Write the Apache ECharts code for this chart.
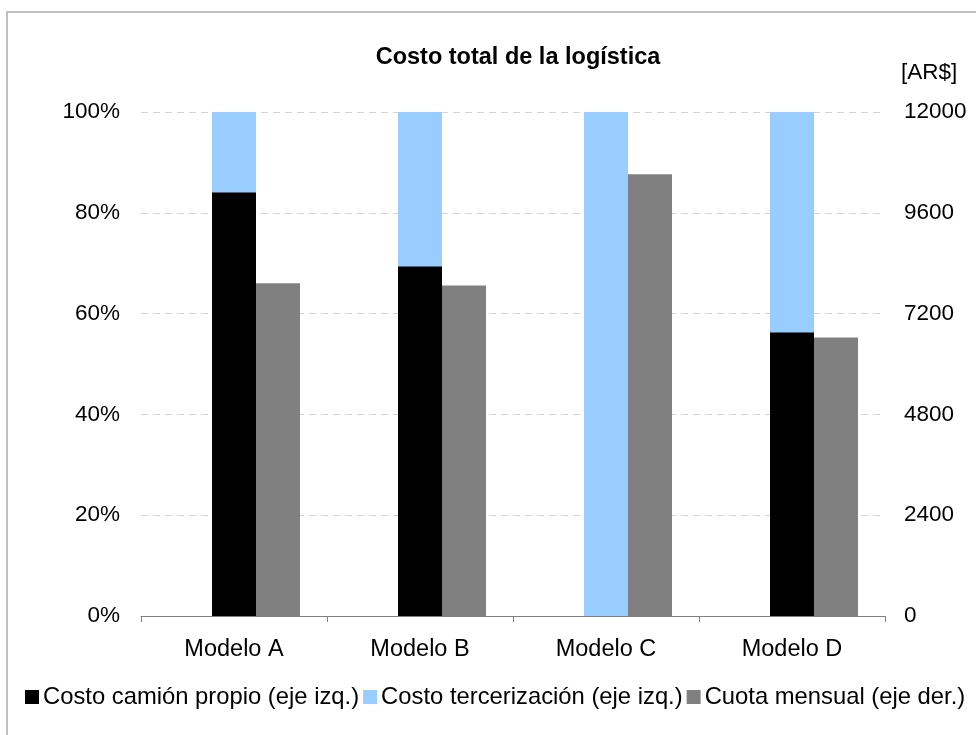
<!DOCTYPE html>
<html>
<head>
<meta charset="utf-8">
<script src="https://cdn.jsdelivr.net/npm/echarts@6/dist/echarts.min.js"></script>
<style>
  html, body { margin: 0; padding: 0; background: #ffffff; }
  #chart { width: 976px; height: 735px; }
</style>
</head>
<body>
<div id="chart"></div>
<script>
// Categories and series values
const categories = ['Modelo A', 'Modelo B', 'Modelo C', 'Modelo D'];
const ownTruckPct = [84.1, 69.4, 0, 56.3];          // % of total cost (left axis)
const outsourcingPct = [15.9, 30.6, 100, 43.7];     // % of total cost (left axis)
const monthlyFee = [7920, 7870, 10520, 6630];       // AR$ (right axis)
const spacer = [null, null, null, null];            // empty column so the stack sits on the category centre

const leftTicks = { min: 0, max: 100, interval: 20 };
const rightTicks = { min: 0, max: 12000, interval: 2400 };

const FONT = "'Liberation Sans', Arial, sans-serif";

const chart = echarts.init(document.getElementById('chart'), null, { renderer: 'canvas' });

chart.setOption({
  animation: false,
  backgroundColor: '#ffffff',
  textStyle: { fontFamily: FONT, color: '#000000' },
  title: {
    text: 'Costo total de la logística',
    left: 518,
    top: 46,
    padding: 0,
    textAlign: 'center',
    textStyle: { fontFamily: FONT, fontSize: 23.5, fontWeight: 'bold', color: '#000000' }
  },
  graphic: [{
    type: 'rect',
    silent: true,
    shape: { x: 7, y: 12, width: 1100, height: 900 },
    style: { fill: null, stroke: '#c0c0c0', lineWidth: 2 }
  }],
  legend: {
    data: ['Costo camión propio (eje izq.)', 'Costo tercerización (eje izq.)', 'Cuota mensual (eje der.)'],
    left: 25,
    top: 685,
    padding: 0,
    itemWidth: 14,
    itemHeight: 14,
    itemGap: 4,
    icon: 'rect',
    textStyle: { fontFamily: FONT, fontSize: 23.8, color: '#000000', padding: [0, 0, 0, -1] }
  },
  grid: { left: 141, right: 91, top: 112, bottom: 119 },
  xAxis: {
    type: 'category',
    data: categories,
    axisLine: { lineStyle: { color: '#808080', width: 1 } },
    axisTick: { show: true, length: 6, lineStyle: { color: '#808080' } },
    axisLabel: { fontFamily: FONT, fontSize: 23.5, color: '#000000', margin: 22 },
    splitLine: { show: false }
  },
  yAxis: [{
    type: 'value',
    min: leftTicks.min,
    max: leftTicks.max,
    interval: leftTicks.interval,
    axisLine: { show: false },
    axisTick: { show: false },
    axisLabel: { fontFamily: FONT, fontSize: 22.5, color: '#000000', margin: 21, formatter: '{value}%' },
    splitLine: { show: true, lineStyle: { color: '#d4d4d4', type: [7, 5], width: 1 } }
  }, {
    type: 'value',
    position: 'right',
    min: rightTicks.min,
    max: rightTicks.max,
    interval: rightTicks.interval,
    name: '[AR$]',
    nameLocation: 'end',
    nameGap: 28,
    nameTextStyle: { fontFamily: FONT, fontSize: 22.5, color: '#000000', align: 'left', padding: [0, 0, 0, 16] },
    axisLine: { show: false },
    axisTick: { show: false },
    axisLabel: { fontFamily: FONT, fontSize: 22.5, color: '#000000', margin: 19, formatter: (v) => String(v) },
    splitLine: { show: false }
  }],
  series: [{
    name: 'spacer',
    type: 'bar',
    stack: 'spacer',
    yAxisIndex: 0,
    barWidth: 44,
    barGap: '0%',
    silent: true,
    data: spacer
  }, {
    name: 'Costo camión propio (eje izq.)',
    type: 'bar',
    stack: 'cost',
    yAxisIndex: 0,
    barWidth: 44,
    barGap: '0%',
    itemStyle: { color: '#000000' },
    data: ownTruckPct
  }, {
    name: 'Costo tercerización (eje izq.)',
    type: 'bar',
    stack: 'cost',
    yAxisIndex: 0,
    barWidth: 44,
    barGap: '0%',
    itemStyle: { color: '#99ccff' },
    data: outsourcingPct
  }, {
    name: 'Cuota mensual (eje der.)',
    type: 'bar',
    stack: 'fee',
    yAxisIndex: 1,
    barWidth: 44,
    barGap: '0%',
    itemStyle: { color: '#808080' },
    data: monthlyFee
  }]
});
</script>
</body>
</html>
